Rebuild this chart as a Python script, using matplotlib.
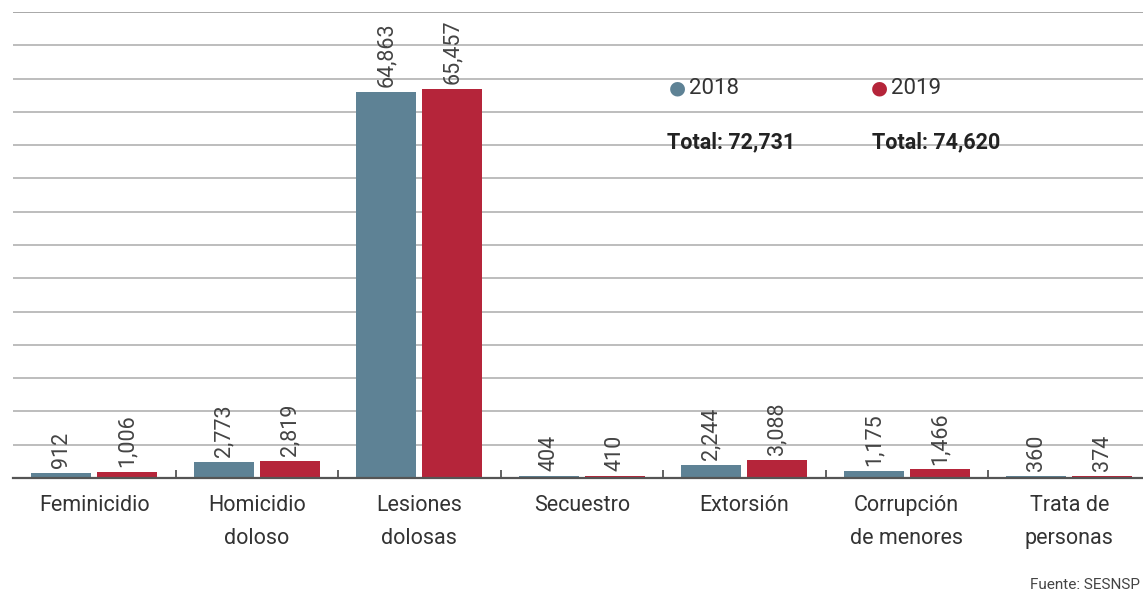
import numpy as np
import matplotlib.pyplot as plt

categorias = ["Feminicidio", "Homicidio\ndoloso", "Lesiones\ndolosas", "Secuestro",
              "Extorsión", "Corrupción\nde menores", "Trata de\npersonas"]
v2018 = [912, 2773, 64863, 404, 2244, 1175, 360]
v2019 = [1006, 2819, 65457, 410, 3088, 1466, 374]
etq2018 = ["912", "2,773", "64,863", "404", "2,244", "1,175", "360"]
etq2019 = ["1,006", "2,819", "65,457", "410", "3,088", "1,466", "374"]
total2018 = "Total: 72,731"
total2019 = "Total: 74,620"

azul = "#5e8295"
rojo = "#b5253a"
gris = "#444444"

plt.rcParams['font.family'] = ['Roboto', 'DejaVu Sans']

fig = plt.figure(figsize=(11.43, 5.97), dpi=100)
ax = fig.add_axes([13/1143, 0.1993, 1137.5/1143, 0.7806])

x = np.arange(len(categorias))
ancho = 0.37
desp = 0.203
ymax = 78330

# lineas de fondo
for g in np.linspace(0, ymax, 15)[1:]:
    col = "#bdbdbd" if g < ymax - 1 else "#a8a8a8"
    ax.axhline(g, color=col, lw=1.4, zorder=0)

ax.bar(x - desp, v2018, ancho, color=azul, zorder=2)
ax.bar(x + desp, v2019, ancho, color=rojo, zorder=2)

for i in range(len(x)):
    ax.text(x[i] - desp, v2018[i] + 800, etq2018[i], rotation=90, ha='center', va='bottom',
            fontsize=15.5, color=gris)
    ax.text(x[i] + desp, v2019[i] + 800, etq2019[i], rotation=90, ha='center', va='bottom',
            fontsize=15.5, color=gris)

ax.set_xlim(-0.5, 6.5)
ax.set_ylim(0, ymax)
for s in ['top', 'right', 'left']:
    ax.spines[s].set_visible(False)
ax.spines['bottom'].set_color("#555555")
ax.spines['bottom'].set_linewidth(1.6)
ax.set_yticks([])

ax.set_xticks(np.arange(0.5, 6, 1))
ax.set_xticklabels([])
ax.tick_params(axis='x', which='major', direction='in', length=6, width=1.3, color="#555555")
ax.set_xticks(x, minor=True)
ax.set_xticklabels(categorias, minor=True, fontsize=15.5, color="#333333", linespacing=1.8)
ax.tick_params(axis='x', which='minor', length=0, pad=12)

# leyenda
fig.text(677/1143, 1 - 88/597, "●", color=azul, fontsize=14, ha='center', va='center',
         family=['DejaVu Sans'])
fig.text(689/1143, 1 - 89/597, "2018", color="#333333", fontsize=16, ha='left', va='center')
fig.text(879/1143, 1 - 88/597, "●", color=rojo, fontsize=14, ha='center', va='center',
         family=['DejaVu Sans'])
fig.text(891/1143, 1 - 89/597, "2019", color="#333333", fontsize=16, ha='left', va='center')
fig.text(667/1143, 1 - 142/597, total2018, color="#222222", fontsize=15.5, fontweight='bold',
         ha='left', va='center')
fig.text(872/1143, 1 - 142/597, total2019, color="#222222", fontsize=15.5, fontweight='bold',
         ha='left', va='center')

fig.text(1140/1143, 1 - 585/597, "Fuente: SESNSP", color="#444444", fontsize=11,
         ha='right', va='center')

fig.savefig("out.png", dpi=100)
